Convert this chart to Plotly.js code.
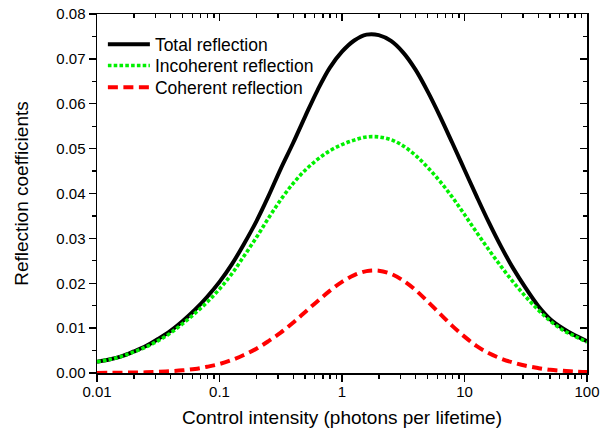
<!DOCTYPE html>
<html>
<head>
<meta charset="utf-8">
<script src="https://cdn.plot.ly/plotly-3.0.1.min.js"></script>
<style>
  html, body { margin: 0; padding: 0; background: #fff; }
  #chart { width: 602px; height: 430px; }
</style>
</head>
<body>
<div id="chart"></div>
<script>
// Control intensity (photons per lifetime), read at tenth-of-a-decade steps
const intensity = [0.01, 0.0126, 0.0158, 0.02, 0.0251, 0.0316, 0.0398, 0.0501, 0.0631, 0.0794,
                   0.1, 0.126, 0.158, 0.2, 0.251, 0.316, 0.398, 0.501, 0.631, 0.794,
                   1, 1.259, 1.585, 1.995, 2.512, 3.162, 3.981, 5.012, 6.31, 7.943,
                   10, 12.59, 15.85, 19.95, 25.12, 31.62, 39.81, 50.12, 63.1, 79.43, 100];
const totalRefl = [0.0025, 0.0030, 0.0037, 0.0048, 0.0060, 0.0076, 0.0094, 0.0116, 0.0141, 0.0170,
                   0.0203, 0.0242, 0.0287, 0.0338, 0.0394, 0.0455, 0.0512, 0.0572, 0.0630, 0.0680,
                   0.0716, 0.0741, 0.0754, 0.0753, 0.0740, 0.0714, 0.0676, 0.0627, 0.0572, 0.0513,
                   0.0453, 0.0393, 0.0335, 0.0281, 0.0232, 0.0189, 0.0150, 0.0120, 0.0100, 0.0084, 0.0071];
const incohRefl = [0.0025, 0.0030, 0.0037, 0.0047, 0.0058, 0.0072, 0.0089, 0.0110, 0.0133, 0.0158,
                   0.0187, 0.0221, 0.0260, 0.0302, 0.0345, 0.0386, 0.0422, 0.0452, 0.0476, 0.0495,
                   0.0509, 0.0519, 0.0526, 0.0526, 0.0520, 0.0506, 0.0485, 0.0458, 0.0427, 0.0392,
                   0.0353, 0.0313, 0.0274, 0.0237, 0.0202, 0.0170, 0.0141, 0.0116, 0.0096, 0.0082, 0.0069];
const cohRefl   = [0.00002, 0.00004, 0.00007, 0.0001, 0.00015, 0.00025, 0.0004, 0.0006, 0.0009, 0.0014,
                   0.0020, 0.0029, 0.0040, 0.0054, 0.0071, 0.0090, 0.0112, 0.0136, 0.0160, 0.0183,
                   0.0203, 0.0218, 0.0227, 0.0228, 0.0221, 0.0206, 0.0185, 0.0159, 0.0132, 0.0105,
                   0.0081, 0.0060, 0.0044, 0.0032, 0.0023, 0.0016, 0.0011, 0.0007, 0.0005, 0.0003, 0.0002];
const seriesNames = ["Total reflection", "Incoherent reflection", "Coherent reflection"];
const xTickVals = [0.01, 0.1, 1, 10, 100];
const xTickText = ["0.01", "0.1", "1", "10", "100"];

const FONT = "Liberation Sans, Arial, sans-serif";

const traces = [
  { x: intensity, y: totalRefl, name: seriesNames[0], mode: "lines", legend: "legend",
    line: { color: "#000000", width: 4, shape: "spline" } },
  { x: intensity, y: incohRefl, name: seriesNames[1], mode: "lines", legend: "legend2",
    line: { color: "#00f000", width: 3.6, dash: "3.6px,2.2px", shape: "spline" } },
  { x: intensity, y: cohRefl, name: seriesNames[2], mode: "lines", legend: "legend3",
    line: { color: "#ff0000", width: 4, dash: "10px,5.5px", shape: "spline" } },
  { x: [], y: [], xaxis: "x2", yaxis: "y2", showlegend: false, hoverinfo: "skip", mode: "lines" }
];

function legendAt(yPaper) {
  return {
    x: 0.012, y: yPaper, xanchor: "left", yanchor: "middle",
    bgcolor: "rgba(0,0,0,0)", borderwidth: 0, itemwidth: 42,
    font: { family: FONT, size: 17.5, color: "#000" }
  };
}

const layout = {
  width: 602, height: 430,
  margin: { l: 97, r: 15, t: 14, b: 57 },
  paper_bgcolor: "#ffffff", plot_bgcolor: "#ffffff",
  font: { family: FONT, color: "#000", size: 15 },
  showlegend: true,
  legend: legendAt(0.9156),
  legend2: legendAt(0.856),
  legend3: legendAt(0.7958),
  xaxis: {
    type: "log", range: [-2, 2],
    tickmode: "array", tickvals: xTickVals, ticktext: xTickText,
    ticks: "outside", ticklen: 7, tickwidth: 1.3, tickcolor: "#000",
    ticklabelstandoff: -3,
    minor: { dtick: "D1", ticks: "outside", ticklen: 4, tickwidth: 1.3, tickcolor: "#000", showgrid: false },
    showline: true, linecolor: "#000", linewidth: 1.5,
    showgrid: false, zeroline: false,
    tickfont: { family: FONT, size: 15 },
    title: { text: "Control intensity (photons per lifetime)", font: { family: FONT, size: 19 }, standoff: 12 }
  },
  yaxis: {
    range: [0, 0.08], dtick: 0.01, tick0: 0, tickformat: ".2f",
    ticks: "outside", ticklen: 7, tickwidth: 1.3, tickcolor: "#000",
    minor: { dtick: 0.005, ticks: "outside", ticklen: 4, tickwidth: 1.3, tickcolor: "#000", showgrid: false },
    showline: true, linecolor: "#000", linewidth: 1.5,
    showgrid: false, zeroline: false,
    tickfont: { family: FONT, size: 15 },
    title: { text: "Reflection coefficients\u00a0\u00a0\u00a0\u00a0\u00a0\u00a0", font: { family: FONT, size: 19 }, standoff: 22 }
  },
  xaxis2: {
    type: "log", range: [-2, 2], overlaying: "x", side: "top", anchor: "y2",
    tickmode: "array", tickvals: xTickVals, showticklabels: false,
    ticks: "inside", ticklen: 7, tickwidth: 1.3, tickcolor: "#000",
    minor: { dtick: "D1", ticks: "inside", ticklen: 4, tickwidth: 1.3, tickcolor: "#000", showgrid: false },
    showline: true, linecolor: "#000", linewidth: 1.5, showgrid: false, zeroline: false
  },
  yaxis2: {
    range: [0, 0.08], dtick: 0.01, tick0: 0, overlaying: "y", side: "right", anchor: "x2",
    showticklabels: false,
    ticks: "inside", ticklen: 7, tickwidth: 1.3, tickcolor: "#000",
    minor: { dtick: 0.005, ticks: "inside", ticklen: 4, tickwidth: 1.3, tickcolor: "#000", showgrid: false },
    showline: true, linecolor: "#000", linewidth: 1.5, showgrid: false, zeroline: false
  }
};

Plotly.newPlot("chart", traces, layout, { displayModeBar: false, staticPlot: true });
</script>
</body>
</html>
